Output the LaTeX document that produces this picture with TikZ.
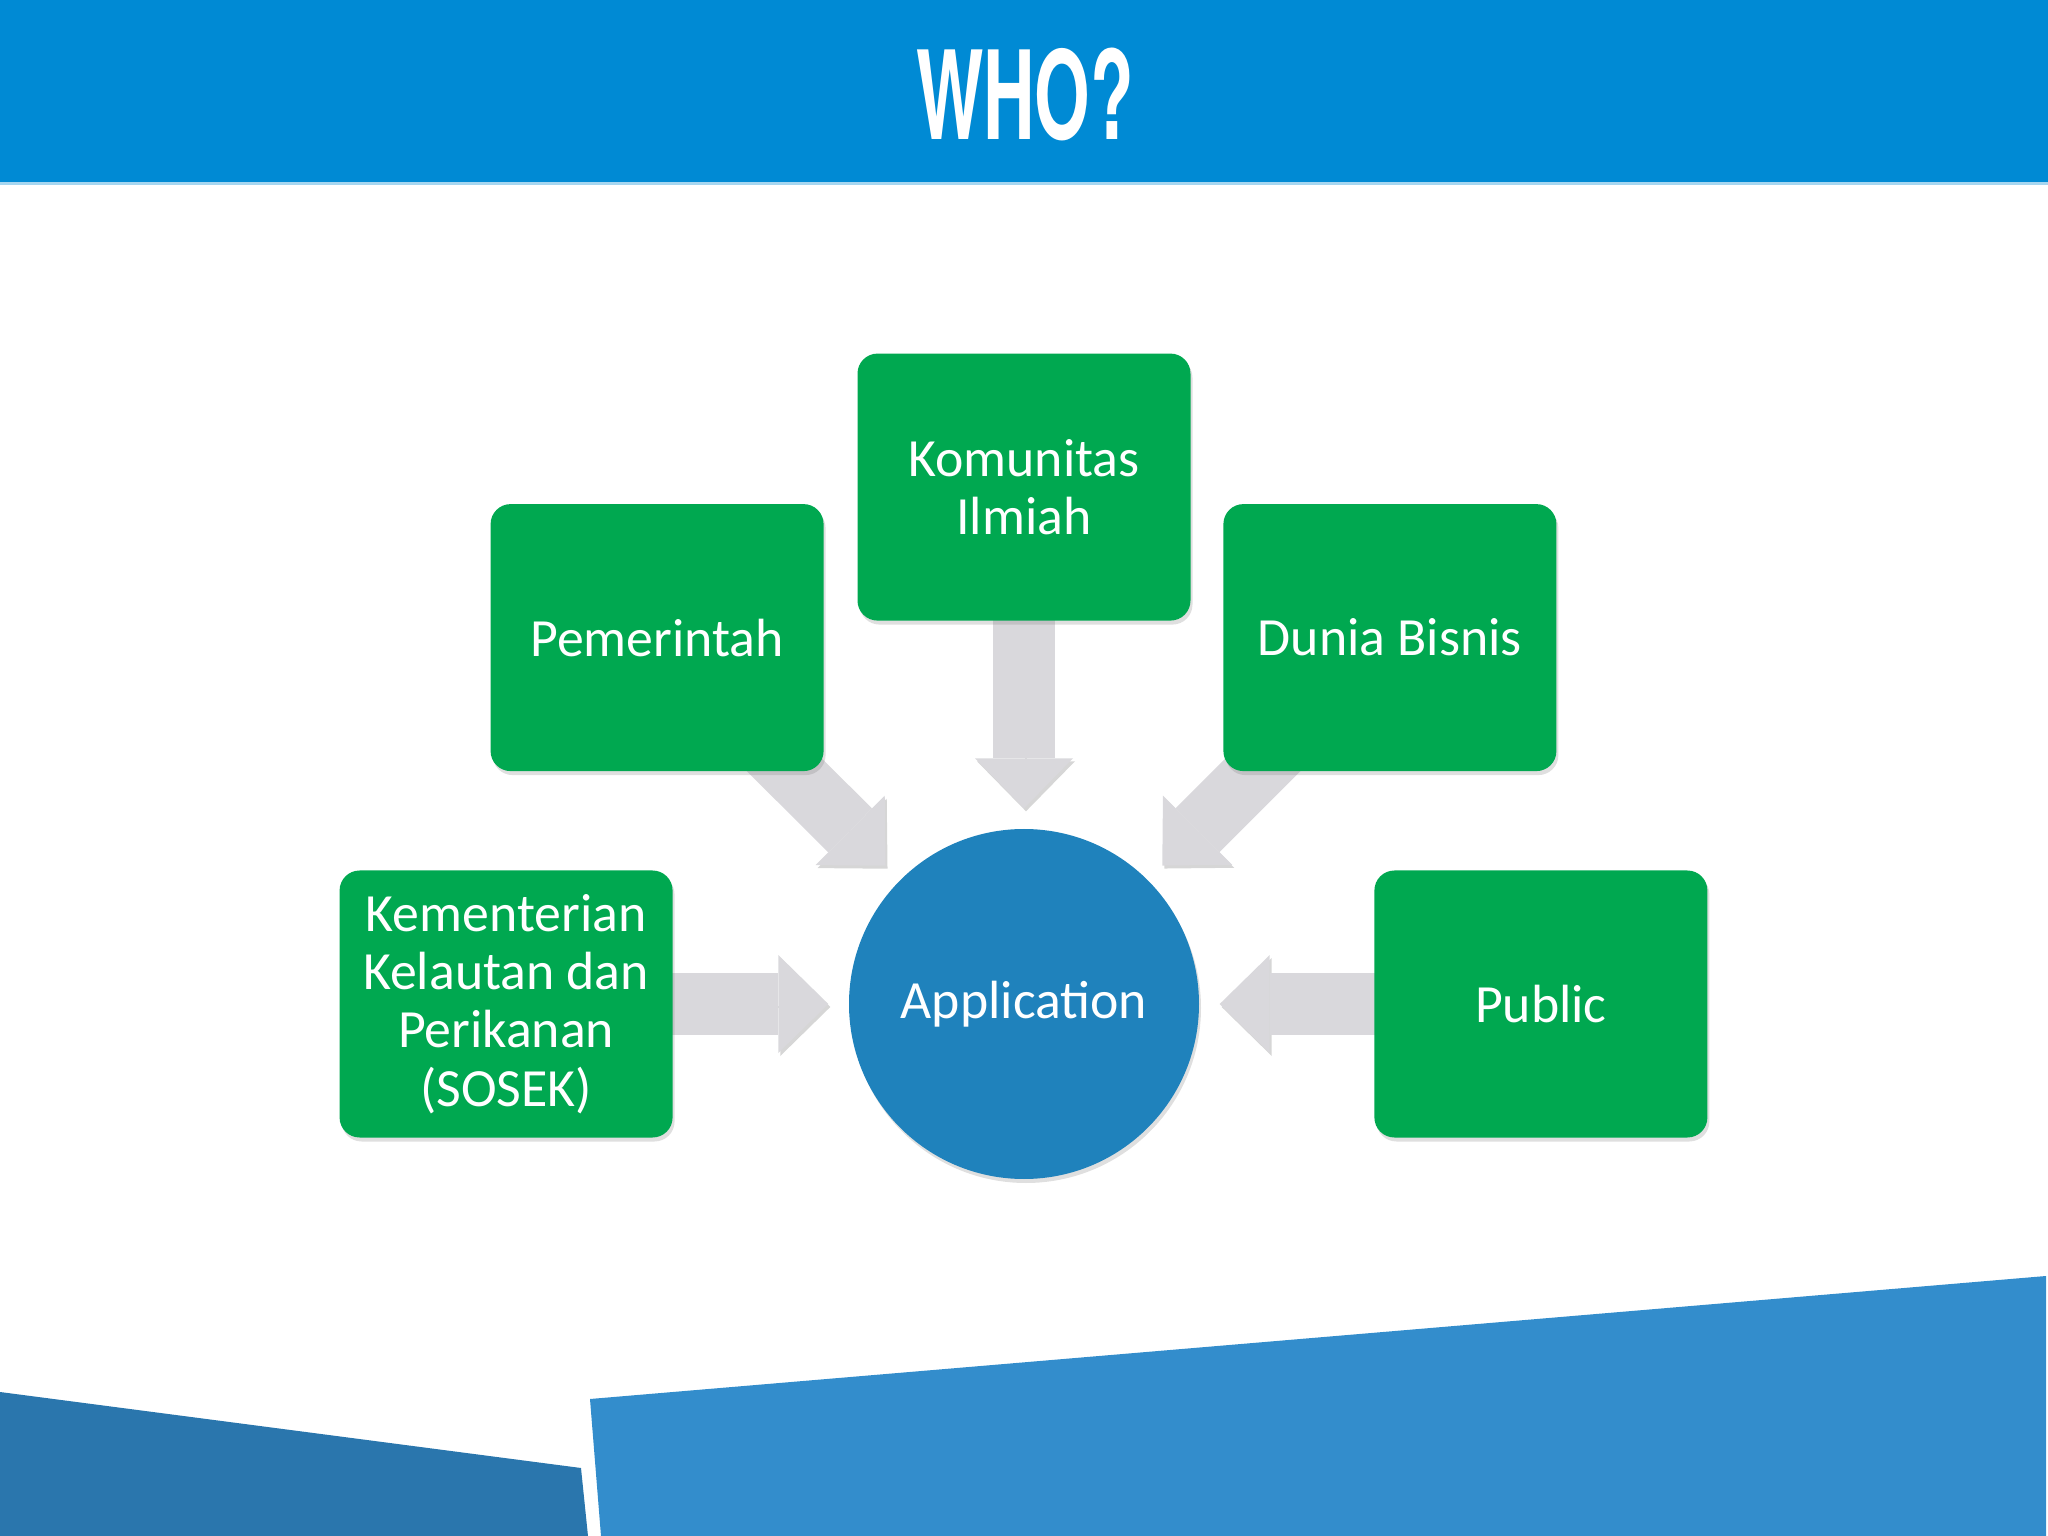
\documentclass[tikz,border=0pt]{standalone}
\usepackage{fontspec}
\setmainfont{Carlito}
\newfontfamily\titlefont{TeX Gyre Heros}
\usetikzlibrary{arrows.meta,positioning,backgrounds,shadows}

\definecolor{headblue}{HTML}{008AD4}
\definecolor{boxgreen}{HTML}{00A850}
\definecolor{appblue}{HTML}{1F82BC}
\definecolor{arrowgray}{HTML}{D9D8DC}
\definecolor{baseblue}{HTML}{2A76AD}
\definecolor{waveblue}{HTML}{338DCC}

\begin{document}
\begin{tikzpicture}[
  whobox/.style={rectangle, rounded corners=0.2cm, fill=boxgreen, text=white,
                 minimum width=3.33cm, minimum height=2.67cm, align=center,
                 inner sep=0pt, font=\fontsize{15.3}{16.6}\selectfont,
                 drop shadow={shadow xshift=0.02cm, shadow yshift=-0.04cm, opacity=0.25}},
  appcircle/.style={circle, fill=appblue, text=white, minimum size=3.5cm,
                    inner sep=0pt, font=\fontsize{15.3}{16.6}\selectfont,
                    drop shadow={shadow xshift=0.02cm, shadow yshift=-0.04cm, opacity=0.25}},
  feed/.style={draw=arrowgray, line width=0.62cm,
               -{Triangle[length=0.5cm, width=0.98cm, line width=0pt]},
               shorten <=-0.5cm, shorten >=0.2cm,
               preaction={draw=black!16, transform canvas={xshift=0.02cm, yshift=-0.03cm}}}
]
  \useasboundingbox (0,0) rectangle (20.48,-15.36);

  % header
  \fill[headblue] (0,0) rectangle (20.48,-1.82);
  \fill[headblue!35] (0,-1.82) rectangle (20.48,-1.85);
  \node[anchor=base, text=white, xscale=0.58, font=\titlefont\bfseries\fontsize{35}{40}\selectfont]
    (title) at (10.25,-1.40) {WHO?};

  % bottom band
  \fill[baseblue] (0,-13.92) -- (5.81,-14.68) -- (5.88,-15.36) -- (0,-15.36) -- cycle;
  \fill[waveblue] (5.90,-13.99) -- (20.46,-12.76) -- (20.46,-15.36) -- (6.01,-15.36) -- cycle;

  \node[appcircle] (app) at (10.24,-10.04) {Application};
  \node[whobox, above=2.07cm of app] (komunitas) {Komunitas\\Ilmiah};
  \node[whobox, left=1.75cm of app] (kkp) {Kementerian\\Kelautan dan\\Perikanan\\(SOSEK)};
  \node[whobox, right=1.74cm of app] (public) {Public};
  \node[whobox, above=0.98cm of kkp, xshift=1.51cm] (pemerintah) {Pemerintah};
  \node[whobox, above=0.98cm of public, xshift=-1.51cm] (bisnis) {Dunia Bisnis};

  \begin{scope}[on background layer]
    \draw[feed] (komunitas) -- (app);
    \draw[feed] (pemerintah) -- (app);
    \draw[feed] (bisnis) -- (app);
    \draw[feed] (kkp) -- (app);
    \draw[feed] (public) -- (app);
  \end{scope}
\end{tikzpicture}
\end{document}
